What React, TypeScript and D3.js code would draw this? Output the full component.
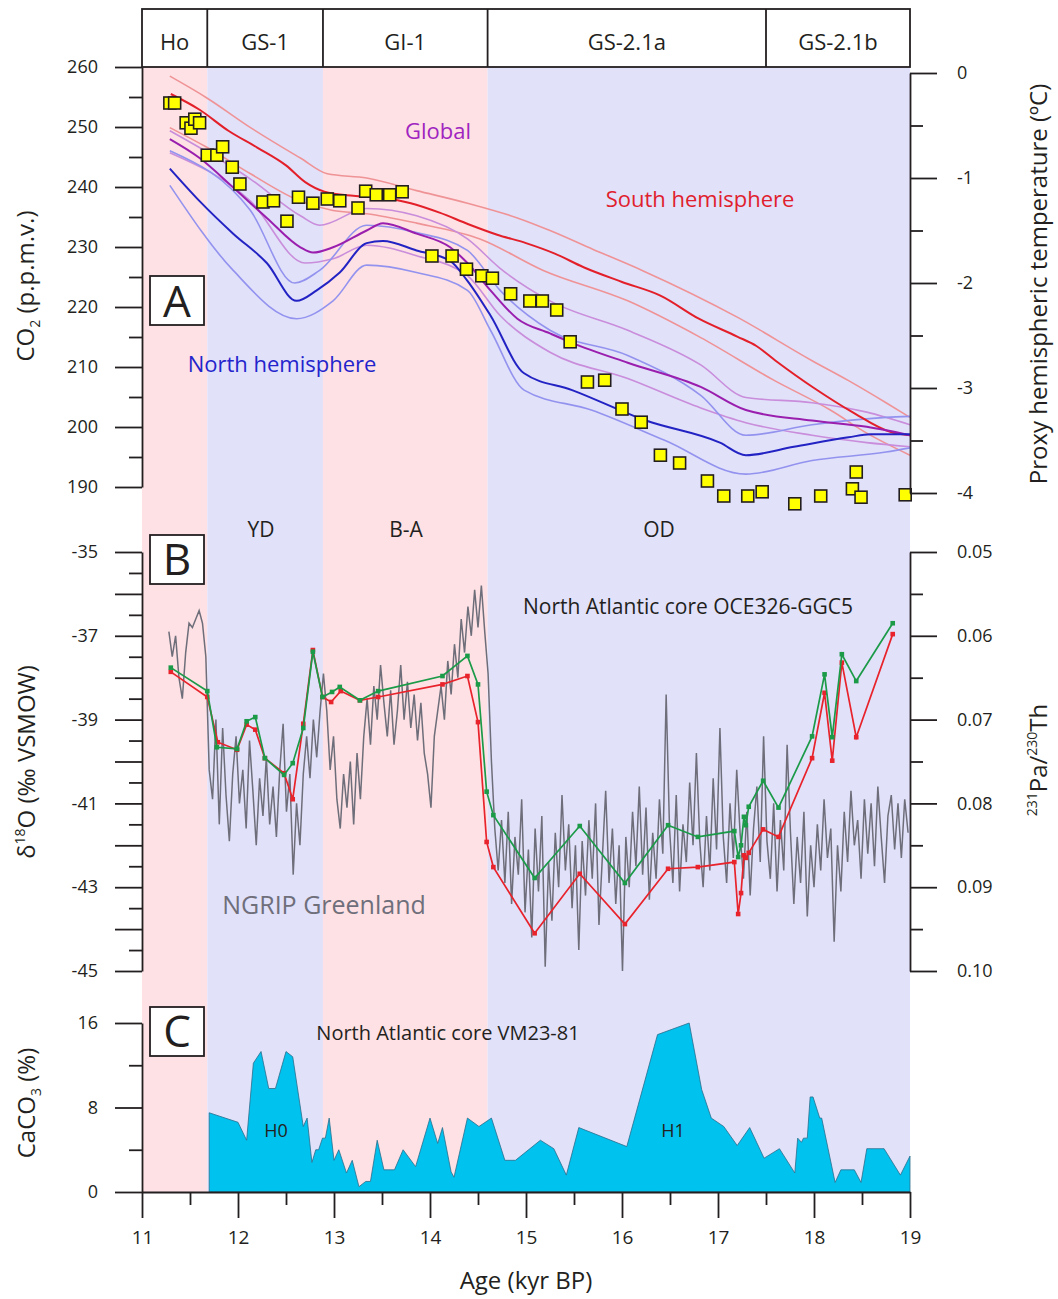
import { useEffect, useRef } from 'react';
import * as d3 from 'd3';

const FONT = '"Open Sans", "Noto Sans", Arial, sans-serif';
const INK = '#231f20';
const PINK = '#fde1e4';
const LAVENDER = '#e1e1fa';

// climate stages (kyr BP)
const stageNames = ['Ho', 'GS-1', 'GI-1', 'GS-2.1a', 'GS-2.1b'];
const stageStarts = [11, 11.68, 12.885, 14.6, 17.5];
const stageEnds = [11.68, 12.885, 14.6, 17.5, 19];
const stageWarm = [true, false, true, false, false];

// panel A: proxy hemispheric temperature (degC), [age, temp]
const southMean: [number, number][] = [
  [11.3, -0.2], [11.6, -0.35], [11.9, -0.55], [12.2, -0.71], [12.5, -0.88], [12.7, -1.04],
  [12.9, -1.13], [13.2, -1.17], [13.5, -1.19], [13.8, -1.24], [14.1, -1.33], [14.4, -1.44],
  [14.7, -1.54], [15.0, -1.62], [15.3, -1.72], [15.6, -1.85], [16.0, -1.99], [16.4, -2.12],
  [16.8, -2.34], [17.2, -2.51], [17.4, -2.6], [17.6, -2.74], [18.0, -3.0], [18.4, -3.23],
  [18.8, -3.42], [19.0, -3.45],
];
const southUpper: [number, number][] = [
  [11.29, -0.03], [11.68, -0.24], [12.13, -0.52], [12.65, -0.81], [12.93, -0.96], [13.34, -1.0],
  [13.86, -1.12], [14.39, -1.24], [14.91, -1.38], [15.25, -1.5], [15.7, -1.68], [16.21, -1.88],
  [17.21, -2.33], [17.98, -2.74], [18.36, -2.93], [18.75, -3.14], [19.0, -3.28],
];
const southLower: [number, number][] = [
  [11.29, -0.52], [11.68, -0.71], [12.13, -0.96], [12.65, -1.22], [12.99, -1.31], [13.34, -1.34],
  [13.86, -1.43], [14.52, -1.58], [15.18, -1.88], [16.06, -2.17], [16.82, -2.52], [17.59, -2.93],
  [18.17, -3.21], [18.55, -3.43], [19.0, -3.64],
];
const globalMean: [number, number][] = [
  [11.29, -0.63], [11.6, -0.81], [11.95, -1.09], [12.3, -1.38], [12.65, -1.66], [12.78, -1.71],
  [12.99, -1.66], [13.34, -1.5], [13.51, -1.43], [13.86, -1.53], [14.21, -1.66], [14.39, -1.81],
  [14.63, -2.07], [14.91, -2.34], [15.25, -2.48], [15.48, -2.57], [16.06, -2.76], [16.82, -2.99],
  [17.29, -3.21], [17.98, -3.31], [18.55, -3.37], [19.0, -3.45],
];
const globalUpper: [number, number][] = [
  [11.29, -0.55], [12.13, -1.01], [12.65, -1.36], [12.85, -1.45], [13.34, -1.29], [13.86, -1.36],
  [14.39, -1.58], [14.73, -1.86], [15.25, -2.17], [16.06, -2.45], [16.82, -2.78], [17.29, -3.09],
  [17.98, -3.14], [18.55, -3.23], [19.0, -3.35],
];
const globalLower: [number, number][] = [
  [11.29, -0.76], [12.13, -1.22], [12.7, -1.81], [12.99, -1.77], [13.34, -1.64], [13.86, -1.74],
  [14.39, -1.93], [14.73, -2.31], [15.25, -2.66], [16.06, -2.91], [16.82, -3.19], [17.29, -3.33],
  [17.98, -3.45], [18.55, -3.52], [19.0, -3.56],
];
const northMean: [number, number][] = [
  [11.29, -0.91], [11.6, -1.22], [11.95, -1.53], [12.3, -1.81], [12.61, -2.17], [12.82, -2.07],
  [13.06, -1.9], [13.34, -1.62], [13.51, -1.6], [13.86, -1.69], [14.21, -1.79], [14.39, -1.98],
  [14.63, -2.31], [14.98, -2.86], [15.48, -3.02], [16.25, -3.31], [17.02, -3.52], [17.29, -3.64],
  [17.79, -3.56], [18.36, -3.47], [18.59, -3.44], [19.0, -3.44],
];
const northUpper: [number, number][] = [
  [11.29, -0.74], [12.13, -1.31], [12.59, -2.0], [12.85, -1.88], [13.34, -1.45], [13.86, -1.52],
  [14.39, -1.69], [14.73, -2.07], [15.25, -2.45], [16.06, -2.69], [16.82, -3.07], [17.29, -3.45],
  [17.98, -3.35], [18.75, -3.28], [19.0, -3.27],
];
const northLower: [number, number][] = [
  [11.29, -1.07], [11.95, -1.88], [12.61, -2.34], [12.99, -2.17], [13.34, -1.83], [13.86, -1.9],
  [14.39, -2.07], [14.63, -2.45], [14.98, -3.02], [15.68, -3.21], [16.45, -3.5], [17.29, -3.82],
  [17.98, -3.69], [18.75, -3.61], [19.0, -3.57],
];

// panel A: atmospheric CO2 (ppmv), [age, co2]
const co2Points: [number, number][] = [
  [11.29, 254.0], [11.34, 254.0], [11.46, 250.7], [11.51, 249.8], [11.55, 251.3], [11.6, 250.7],
  [11.68, 245.3], [11.78, 245.3], [11.84, 246.7], [11.94, 243.3], [12.02, 240.5], [12.26, 237.5],
  [12.37, 237.7], [12.51, 234.3], [12.63, 238.3], [12.78, 237.3], [12.93, 238.0], [13.06, 237.7],
  [13.25, 236.5], [13.33, 239.3], [13.44, 238.7], [13.58, 238.7], [13.71, 239.2], [14.02, 228.5],
  [14.23, 228.5], [14.38, 226.3], [14.54, 225.2], [14.65, 224.8], [14.84, 222.2], [15.04, 221.0],
  [15.17, 221.0], [15.32, 219.5], [15.46, 214.2], [15.64, 207.5], [15.82, 207.8], [16.0, 203.0],
  [16.2, 200.8], [16.4, 195.3], [16.6, 194.0], [16.89, 191.0], [17.06, 188.5], [17.31, 188.5],
  [17.46, 189.2], [17.8, 187.2], [18.07, 188.5], [18.4, 189.7], [18.44, 192.5], [18.49, 188.3],
  [18.95, 188.7],
];

// panel B: NGRIP d18O, regular 35-yr steps from 11.28 kyr
const ngripStart = 11.28;
const ngripStep = 0.035;
const ngripD18O = [
  -36.9, -37.5, -37.0, -38.0, -38.5, -37.4, -36.7, -36.8, -36.6, -36.4, -36.7, -37.5, -40.2,
  -40.9, -39.0, -41.5, -39.2, -40.8, -41.9, -40.3, -39.4, -41.0, -40.2,
  -41.6, -39.5, -40.7, -42.0, -40.4, -41.3, -39.9, -41.5, -40.6, -41.8,
  -40.2, -39.1, -41.2, -40.3, -42.7, -41.0, -42.0, -40.3, -39.4, -40.4,
  -39.0, -39.9, -38.8, -37.9,
  -38.8, -40.2, -39.4, -40.9, -41.6, -40.3, -41.1, -40.0, -41.5, -39.8,
  -40.9, -39.4, -38.5, -39.6, -38.2, -39.0, -37.7, -38.6, -39.4, -38.3,
  -39.6, -38.8, -37.7, -39.0, -38.1, -39.2, -38.4, -39.5, -38.6, -39.8,
  -40.3, -41.1, -39.4, -38.8, -38.2, -39.0, -37.6, -38.4, -37.2, -38.0,
  -36.6, -37.4, -36.3, -37.0, -35.9, -36.8, -35.8, -36.9, -37.9, -40.0, -41.6,
  -42.6, -41.4, -42.9, -41.2, -43.4, -41.8, -42.7, -40.9, -43.6, -42.1,
  -44.2, -41.6, -43.1, -41.3, -44.9, -42.4, -43.8, -41.7, -43.0, -40.8,
  -42.6, -41.5, -43.5, -42.0, -44.5, -41.9, -43.2, -41.4, -42.8, -41.0,
  -43.9, -42.3, -40.7, -42.9, -41.6, -43.4, -42.0, -45.0, -41.8, -43.0,
  -41.2, -42.5, -40.6, -42.7, -41.1, -43.3, -41.7, -42.8, -40.9, -42.2,
  -38.4, -41.6, -42.9, -40.8, -43.1, -41.5, -42.4, -40.5, -42.0, -39.8,
  -41.9, -43.0, -41.3, -42.6, -40.4, -42.1, -39.2, -41.8, -42.9, -41.0,
  -42.3, -40.2, -41.7, -42.8, -41.2, -43.2, -41.6, -40.6, -42.4, -39.4,
  -41.9, -42.8, -41.0, -43.1, -41.4, -42.6, -39.6, -41.7, -43.4, -41.8,
  -42.9, -41.2, -43.7, -42.0, -43.0, -41.5, -42.6, -40.9, -42.3, -41.6,
  -44.3, -42.0, -43.1, -41.2, -42.4, -40.7, -42.0, -41.4, -42.8, -40.9,
  -42.2, -41.0, -42.5, -40.6, -41.8, -42.9, -41.3, -40.8, -42.1, -41.0,
  -42.3, -40.9, -41.7,
];

// panel B: 231Pa/230Th, OCE326-GGC5, [age, ratio]
const paThGreen: [number, number][] = [
  [11.3, 0.0638], [11.68, 0.0666], [11.78, 0.0733], [11.99, 0.0735], [12.09, 0.0702], [12.18, 0.0697],
  [12.28, 0.0746], [12.48, 0.0766], [12.57, 0.0752], [12.68, 0.071], [12.78, 0.0619], [12.88, 0.0673],
  [12.98, 0.0667], [13.06, 0.0661], [13.27, 0.0677], [13.46, 0.0666], [14.13, 0.0648], [14.39, 0.0624],
  [14.5, 0.0658], [14.59, 0.0786], [14.66, 0.0814], [15.09, 0.0889], [15.56, 0.0827], [16.03, 0.0895],
  [16.48, 0.0826], [16.79, 0.084], [17.17, 0.0833], [17.21, 0.0864], [17.24, 0.085], [17.27, 0.0816],
  [17.29, 0.0826], [17.32, 0.0804], [17.47, 0.0773], [17.63, 0.0805], [17.98, 0.072], [18.11, 0.0646],
  [18.19, 0.0721], [18.29, 0.0622], [18.44, 0.0654], [18.82, 0.0585],
];
const paThRed: [number, number][] = [
  [11.3, 0.0643], [11.68, 0.0673], [11.79, 0.0727], [11.99, 0.0736], [12.09, 0.0706], [12.18, 0.0712],
  [12.28, 0.0746], [12.48, 0.0764], [12.57, 0.0795], [12.68, 0.0705], [12.78, 0.0617], [12.88, 0.0673],
  [12.97, 0.0679], [13.07, 0.0666], [13.27, 0.0677], [13.46, 0.0673], [14.13, 0.0658], [14.39, 0.0648],
  [14.5, 0.0703], [14.59, 0.0846], [14.66, 0.0876], [15.09, 0.0955], [15.56, 0.0884], [16.03, 0.0944],
  [16.48, 0.0878], [16.79, 0.0876], [17.17, 0.087], [17.21, 0.0932], [17.24, 0.0907], [17.27, 0.0862],
  [17.29, 0.0865], [17.32, 0.0859], [17.47, 0.0831], [17.63, 0.084], [17.98, 0.0746], [18.11, 0.0668],
  [18.19, 0.0749], [18.29, 0.0632], [18.44, 0.0721], [18.82, 0.0598],
];

// panel C: CaCO3 (%), VM23-81, [age, percent]
const caco3: [number, number][] = [
  [11.7, 7.5], [12.0, 6.6], [12.09, 4.9], [12.16, 12.2], [12.24, 13.3], [12.32, 9.8], [12.39, 9.8],
  [12.5, 13.3], [12.57, 12.8], [12.68, 6.2], [12.72, 7.0], [12.77, 2.8], [12.81, 4.0], [12.84, 4.0],
  [12.88, 5.1], [12.91, 5.1], [12.95, 7.0], [13.0, 3.0], [13.05, 4.0], [13.13, 1.8], [13.19, 3.0],
  [13.26, 0.5], [13.33, 1.0], [13.38, 1.0], [13.45, 4.9], [13.52, 2.1], [13.63, 2.1], [13.72, 4.0],
  [13.85, 2.4], [14.0, 7.0], [14.08, 4.6], [14.13, 6.1], [14.22, 1.9], [14.25, 1.4], [14.39, 7.0],
  [14.51, 6.2], [14.64, 7.0], [14.78, 3.0], [14.89, 3.0], [15.15, 4.9], [15.29, 4.1], [15.42, 1.6],
  [15.55, 6.1], [16.05, 4.3], [16.37, 14.9], [16.7, 16.0], [16.83, 9.7], [16.93, 7.0], [17.06, 6.2],
  [17.2, 4.4], [17.33, 6.1], [17.48, 3.2], [17.64, 4.1], [17.8, 1.8], [17.83, 5.1], [17.87, 4.7],
  [17.89, 5.1], [17.93, 5.1], [17.96, 9.0], [17.99, 9.0], [18.06, 7.0], [18.08, 7.0], [18.22, 0.9],
  [18.28, 2.1], [18.42, 2.1], [18.49, 0.9], [18.55, 4.1], [18.73, 4.1], [18.9, 1.6], [19.0, 3.4],
];

// tick values
const ageTicks = [11, 12, 13, 14, 15, 16, 17, 18, 19];
const co2Ticks = [190, 200, 210, 220, 230, 240, 250, 260];
const tempTicks = [0, -1, -2, -3, -4];
const d18OTicks = [-45, -44, -43, -42, -41, -40, -39, -38, -37, -36, -35];
const paThTicks = [0.05, 0.06, 0.07, 0.08, 0.09, 0.1];
const caco3Ticks = [0, 8, 16];

export default function App() {
  const ref = useRef<SVGSVGElement>(null);

  useEffect(() => {
    if (!ref.current) return;
    const svg = d3.select(ref.current);
    svg.selectAll('*').remove();

    const x = d3.scaleLinear().domain([11, 19]).range([142, 910]);
    const yCO2 = d3.scaleLinear().domain([190, 260]).range([487, 67]);
    const yTemp = d3.scaleLinear().domain([-4, 0]).range([493, 73]);
    const yD18O = d3.scaleLinear().domain([-45, -35]).range([971, 552]);
    const yPaTh = d3.scaleLinear().domain([0.1, 0.05]).range([971, 552]);
    const yCaCO3 = d3.scaleLinear().domain([0, 16]).range([1192, 1023]);

    // 1) stage backgrounds + header
    stageNames.forEach((name, i) => {
      svg.append('rect')
        .attr('x', x(stageStarts[i]))
        .attr('y', 67)
        .attr('width', x(stageEnds[i]) - x(stageStarts[i]))
        .attr('height', 1192 - 67)
        .attr('fill', stageWarm[i] ? PINK : LAVENDER);
    });
    svg.append('rect')
      .attr('x', 142).attr('y', 9).attr('width', 768).attr('height', 58)
      .attr('fill', '#fff').attr('stroke', INK).attr('stroke-width', 1.8);
    stageNames.forEach((name, i) => {
      if (i > 0) {
        svg.append('line')
          .attr('x1', x(stageStarts[i])).attr('x2', x(stageStarts[i]))
          .attr('y1', 9).attr('y2', 67)
          .attr('stroke', INK).attr('stroke-width', 1.8);
      }
      svg.append('text')
        .attr('x', (x(stageStarts[i]) + x(stageEnds[i])) / 2)
        .attr('y', 50)
        .attr('text-anchor', 'middle')
        .attr('font-family', FONT).attr('font-size', 22).attr('fill', INK)
        .text(name);
    });

    // 2) panel A temperature curves
    const tempLine = d3.line<[number, number]>()
      .x(d => x(d[0])).y(d => yTemp(d[1]))
      .curve(d3.curveMonotoneX);
    const curves: { data: [number, number][]; color: string; width: number }[] = [
      { data: southUpper, color: '#ef9396', width: 1.6 },
      { data: southLower, color: '#ef9396', width: 1.6 },
      { data: globalUpper, color: '#c98ddb', width: 1.6 },
      { data: globalLower, color: '#c98ddb', width: 1.6 },
      { data: northUpper, color: '#9393ef', width: 1.6 },
      { data: northLower, color: '#9393ef', width: 1.6 },
      { data: southMean, color: '#e3202a', width: 2 },
      { data: globalMean, color: '#9a1fae', width: 2 },
      { data: northMean, color: '#2323c4', width: 2 },
    ];
    curves.forEach(c => {
      svg.append('path')
        .datum(c.data)
        .attr('d', tempLine)
        .attr('fill', 'none')
        .attr('stroke', c.color)
        .attr('stroke-width', c.width);
    });

    svg.selectAll('rect.co2')
      .data(co2Points)
      .enter()
      .append('rect')
      .attr('class', 'co2')
      .attr('x', d => x(d[0]) - 6)
      .attr('y', d => yCO2(d[1]) - 6)
      .attr('width', 12).attr('height', 12)
      .attr('fill', '#ffff00')
      .attr('stroke', INK).attr('stroke-width', 1.6);

    // 3) panel B
    const ngrip: [number, number][] = ngripD18O.map((v, i) => [ngripStart + i * ngripStep, v]);
    svg.append('path')
      .datum(ngrip)
      .attr('d', d3.line<[number, number]>().x(d => x(d[0])).y(d => yD18O(d[1])))
      .attr('fill', 'none')
      .attr('stroke', '#6e6e7a')
      .attr('stroke-width', 1.5);

    const paThLine = d3.line<[number, number]>().x(d => x(d[0])).y(d => yPaTh(d[1]));
    [{ data: paThRed, color: '#e8232b' }, { data: paThGreen, color: '#1b9a48' }].forEach(s => {
      svg.append('path')
        .datum(s.data)
        .attr('d', paThLine)
        .attr('fill', 'none')
        .attr('stroke', s.color)
        .attr('stroke-width', 1.7);
      svg.selectAll(null)
        .data(s.data)
        .enter()
        .append('rect')
        .attr('x', d => x(d[0]) - 2.3)
        .attr('y', d => yPaTh(d[1]) - 2.3)
        .attr('width', 4.6).attr('height', 4.6)
        .attr('fill', s.color);
    });

    // 4) panel C
    svg.append('path')
      .datum(caco3)
      .attr('d', d3.area<[number, number]>()
        .x(d => x(d[0]))
        .y0(yCaCO3(0))
        .y1(d => yCaCO3(d[1])))
      .attr('fill', '#00c2ef')
      .attr('stroke', '#2b6d8c')
      .attr('stroke-width', 0.8);

    // 5) axes
    const styleAxis = (g: d3.Selection<SVGGElement, unknown, null, undefined>, fs: number) => {
      g.attr('font-family', FONT).attr('font-size', fs);
      g.select('.domain').attr('stroke', INK).attr('stroke-width', 1.8);
      g.selectAll('.tick line').attr('stroke', INK).attr('stroke-width', 1.8);
      g.selectAll('.tick text').attr('fill', INK);
    };
    const minorAxis = (axis: d3.Axis<d3.NumberValue>, tf: string) => {
      const g = svg.append('g').attr('transform', tf).call(axis.tickSize(13).tickSizeOuter(0).tickFormat(() => ''));
      g.select('.domain').remove();
      g.selectAll('.tick line').attr('stroke', INK).attr('stroke-width', 1.8);
    };
    const fmt = (d: d3.NumberValue) => String(d);

    // left axes
    svg.append('g').attr('transform', 'translate(142,0)')
      .call(d3.axisLeft(yCO2).tickValues(co2Ticks).tickSize(27).tickSizeOuter(0).tickPadding(17).tickFormat(fmt))
      .call(g => styleAxis(g, 18));
    minorAxis(d3.axisLeft(yCO2).tickValues(d3.range(195, 260, 10)), 'translate(142,0)');

    svg.append('g').attr('transform', 'translate(142,0)')
      .call(d3.axisLeft(yD18O).tickValues(d18OTicks).tickSize(27).tickSizeOuter(0).tickPadding(17)
        .tickFormat(d => (Math.abs(+d) % 2 === 1 ? String(d) : '')))
      .call(g => styleAxis(g, 18));
    minorAxis(d3.axisLeft(yD18O).tickValues(d3.range(-44.5, -35, 1)), 'translate(142,0)');

    svg.append('g').attr('transform', 'translate(142,0)')
      .call(d3.axisLeft(yCaCO3).tickValues(caco3Ticks).tickSize(27).tickSizeOuter(0).tickPadding(17).tickFormat(fmt))
      .call(g => styleAxis(g, 18));
    minorAxis(d3.axisLeft(yCaCO3).tickValues([4, 12]), 'translate(142,0)');

    // right axes
    svg.append('g').attr('transform', 'translate(910,0)')
      .call(d3.axisRight(yTemp).tickValues(tempTicks).tickSize(27).tickSizeOuter(0).tickPadding(20).tickFormat(fmt))
      .call(g => styleAxis(g, 18));
    minorAxis(d3.axisRight(yTemp).tickValues([-0.5, -1.5, -2.5, -3.5]), 'translate(910,0)');

    svg.append('g').attr('transform', 'translate(910,0)')
      .call(d3.axisRight(yPaTh).tickValues(paThTicks).tickSize(27).tickSizeOuter(0).tickPadding(20)
        .tickFormat(d3.format('.2f')))
      .call(g => styleAxis(g, 18));
    minorAxis(d3.axisRight(yPaTh).tickValues([0.055, 0.065, 0.075, 0.085, 0.095]), 'translate(910,0)');

    // age axis
    svg.append('g').attr('transform', 'translate(0,1192)')
      .call(d3.axisBottom(x).tickValues(ageTicks).tickSize(26).tickSizeOuter(0).tickPadding(13).tickFormat(fmt))
      .call(g => styleAxis(g, 19));
    minorAxis(d3.axisBottom(x).tickValues(d3.range(11.5, 19, 1)), 'translate(0,1192)');

    // 6) text
    const note = (tx: number, ty: number, s: string, size: number, color: string) =>
      svg.append('text')
        .attr('x', tx).attr('y', ty)
        .attr('text-anchor', 'middle')
        .attr('font-family', FONT).attr('font-size', size).attr('fill', color)
        .text(s);

    note(438, 139, 'Global', 22, '#a024c0');
    note(700, 207, 'South hemisphere', 22, '#e0202c');
    note(282, 372, 'North hemisphere', 22, '#2424cc');
    note(261, 537, 'YD', 21, INK);
    note(406, 537, 'B-A', 21, INK);
    note(659, 537, 'OD', 21, INK);
    note(688, 614, 'North Atlantic core OCE326-GGC5', 21, INK);
    note(324, 914, 'NGRIP Greenland', 25, '#6f6f7b');
    note(448, 1040, 'North Atlantic core VM23-81', 20, INK);
    note(276, 1137, 'H0', 18, INK);
    note(673, 1137, 'H1', 18, INK);
    note(526, 1289, 'Age (kyr BP)', 24, INK);

    // panel letters
    [{ s: 'A', y: 276, b: 317 }, { s: 'B', y: 535, b: 575 }, { s: 'C', y: 1007, b: 1047 }].forEach(p => {
      svg.append('rect')
        .attr('x', 150).attr('y', p.y).attr('width', 54).attr('height', 49)
        .attr('fill', '#fff').attr('stroke', INK).attr('stroke-width', 1.8);
      note(177, p.b, p.s, 44, INK);
    });

    // axis titles (rotated)
    const vtitle = (tx: number, ty: number) =>
      svg.append('text')
        .attr('transform', `translate(${tx},${ty}) rotate(-90)`)
        .attr('text-anchor', 'middle')
        .attr('font-family', FONT).attr('font-size', 24).attr('fill', INK);

    const t1 = vtitle(34, 286);
    t1.append('tspan').text('CO');
    t1.append('tspan').text('2').attr('font-size', 14).attr('dy', 6);
    t1.append('tspan').text(' (p.p.m.v.)').attr('dy', -6);

    const t2 = vtitle(35, 762);
    t2.append('tspan').text('δ');
    t2.append('tspan').text('18').attr('font-size', 14).attr('dy', -10);
    t2.append('tspan').text('O (‰ VSMOW)').attr('dy', 10);

    const t3 = vtitle(35, 1103);
    t3.append('tspan').text('CaCO');
    t3.append('tspan').text('3').attr('font-size', 14).attr('dy', 6);
    t3.append('tspan').text(' (%)').attr('dy', -6);

    const t4 = vtitle(1047, 284);
    t4.text('Proxy hemispheric temperature (ºC)');

    const t5 = vtitle(1047, 760);
    t5.append('tspan').text('231').attr('font-size', 14).attr('dy', -10);
    t5.append('tspan').text('Pa/').attr('dy', 10);
    t5.append('tspan').text('230').attr('font-size', 14).attr('dy', -10);
    t5.append('tspan').text('Th').attr('dy', 10);
  }, []);

  return (
    <svg
      ref={ref}
      width={1058}
      height={1299}
      style={{ position: 'absolute', left: 0, top: 0, background: '#fff' }}
    />
  );
}
